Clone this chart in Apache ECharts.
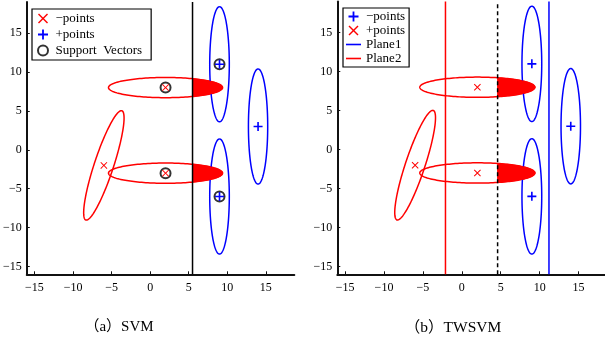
<!DOCTYPE html>
<html>
<head>
<meta charset="utf-8">
<script src="https://cdn.jsdelivr.net/npm/echarts@6/dist/echarts.min.js"></script>
<style>
  html, body { margin: 0; padding: 0; background: #fff; }
  #chart { width: 605px; height: 337px; }
</style>
</head>
<body>
<div id="chart"></div>
<script>
// same toy data set on both panels
const negPoints = [[2, 8], [2, -3], [-6, -2]];
const posPoints = [[9, 11], [9, -6], [14, 3]];
const supportVectors = [[2, 8], [2, -3], [9, 11], [9, -6]];
// ellipse: [cx, cy, semi axis along angle, other semi axis, angle in deg]
const negEllipses = [[2, 8, 7.4, 1.3, 0], [2, -3, 7.4, 1.3, 0], [-6, -2, 7.4, 1.25, 71.6]];
const posEllipses = [[9, 11, 7.4, 1.27, 90], [9, -6, 7.4, 1.27, 90], [14, 3, 7.4, 1.25, 90]];
// separating lines
const svmLine = 5.5;
const twsvmPlane1 = 11.2;
const twsvmPlane2 = -2.1;
const twsvmMid = 4.6;
const ticks = [-15, -10, -5, 0, 5, 10, 15];
const yBottom = -16, yTop = 19;

const SERIF = "'Liberation Serif', 'DejaVu Serif', serif";
const RED = '#ff0000';
const BLUE = '#0000ff';
const crossIcon = 'path://M1,0 L5,4 L9,0 L10,1 L6,5 L10,9 L9,10 L5,6 L1,10 L0,9 L4,5 L0,1 Z';
const plusIcon = 'path://M4.1,0 H5.9 V4.1 H10 V5.9 H5.9 V10 H4.1 V5.9 H0 V4.1 H4.1 Z';
// thin bar; the bare moves keep the full 15x10 box so the bar stays thin
const lineIcon = 'path://M0,0 M0,4.2 L15,4.2 L15,5.8 L0,5.8 Z M15,10';

const fmt = v => (v < 0 ? '\u2212' + Math.abs(v) : String(v));

// part of a horizontal ellipse to the right of x0
const capData = x0 => negEllipses.slice(0, 2).map(e => [e[0], e[1], e[2], e[3], x0]);

function ellipseOutline(color) {
  return function (params, api) {
    const cx = api.value(0), cy = api.value(1), a = api.value(2), b = api.value(3);
    const ang = api.value(4) * Math.PI / 180;
    const pts = [];
    for (let i = 0; i <= 160; i++) {
      const t = i / 160 * 2 * Math.PI;
      const x = cx + a * Math.cos(t) * Math.cos(ang) - b * Math.sin(t) * Math.sin(ang);
      const y = cy + a * Math.cos(t) * Math.sin(ang) + b * Math.sin(t) * Math.cos(ang);
      pts.push(api.coord([x, y]));
    }
    return { type: 'polyline', shape: { points: pts }, style: { stroke: color, lineWidth: 1.5, fill: null } };
  };
}

function ellipseCap(params, api) {
  const cx = api.value(0), cy = api.value(1), a = api.value(2), b = api.value(3), x0 = api.value(4);
  const t0 = Math.acos(Math.max(-1, Math.min(1, (x0 - cx) / a)));
  const pts = [];
  for (let i = 0; i <= 60; i++) {
    const t = -t0 + 2 * t0 * i / 60;
    pts.push(api.coord([cx + a * Math.cos(t), cy + b * Math.sin(t)]));
  }
  return { type: 'polygon', shape: { points: pts }, style: { fill: RED, stroke: RED, lineWidth: 1 } };
}

function xAxisOf(idx, max) {
  return {
    type: 'value', gridIndex: idx, min: -16, max: max,
    axisLine: { show: true, onZero: false, lineStyle: { color: '#111', width: 2 } },
    axisTick: { show: true, inside: true, length: 3, customValues: ticks, lineStyle: { color: '#111' } },
    axisLabel: { customValues: ticks, formatter: fmt, color: '#000', fontFamily: SERIF, fontSize: 12, margin: 8 },
    splitLine: { show: false }
  };
}
function yAxisOf(idx) {
  return {
    type: 'value', gridIndex: idx, min: yBottom, max: yTop,
    axisLine: { show: true, onZero: false, lineStyle: { color: '#111', width: 2 } },
    axisTick: { show: true, inside: true, length: 3, customValues: ticks, lineStyle: { color: '#111' } },
    axisLabel: { customValues: ticks, formatter: fmt, color: '#000', fontFamily: SERIF, fontSize: 12, margin: 5 },
    splitLine: { show: false }
  };
}
function vline(name, idx, x, color, type) {
  return {
    name: name, type: 'line', xAxisIndex: idx, yAxisIndex: idx,
    data: [[x, yBottom], [x, yTop]], symbol: 'none', showSymbol: false, silent: true,
    lineStyle: { color: color, width: 1.5, type: type || 'solid' }, itemStyle: { color: color }, z: 3
  };
}
function outline(idx, data, color) {
  return { type: 'custom', xAxisIndex: idx, yAxisIndex: idx, data: data, renderItem: ellipseOutline(color),
    encode: { x: 0, y: 1 }, silent: true, z: 1 };
}
function caps(idx, x0) {
  return { type: 'custom', xAxisIndex: idx, yAxisIndex: idx, data: capData(x0), renderItem: ellipseCap,
    encode: { x: 0, y: 1 }, silent: true, z: 2 };
}
function marks(name, idx, data, icon, color, size) {
  return { name: name, type: 'scatter', xAxisIndex: idx, yAxisIndex: idx, data: data, symbol: icon,
    symbolSize: size, itemStyle: { color: color, opacity: 1 }, z: 5 };
}

const labels = {
  a_neg: '\u2212points', a_pos: '+points', a_sv: 'Support  Vectors',
  b_blue: '\u2212points', b_red: '+points', b_p1: 'Plane1', b_p2: 'Plane2'
};
const legendBase = {
  orient: 'vertical', backgroundColor: '#fff', borderColor: '#000', borderWidth: 1.2,
  itemWidth: 15, itemHeight: 10, selectedMode: false,
  textStyle: { fontFamily: SERIF, fontSize: 13, color: '#000', lineHeight: 13 },
  formatter: name => labels[name]
};

const chart = echarts.init(document.getElementById('chart'), null, { renderer: 'canvas' });
chart.setOption({
  animation: false,
  backgroundColor: '#fff',
  grid: [
    { left: 22, top: 2, right: 310.7, bottom: 62.7 },
    { left: 337.3, top: 1.5, right: 0, bottom: 62.7 }
  ],
  xAxis: [xAxisOf(0, 18.7), xAxisOf(1, 18.4)],
  yAxis: [yAxisOf(0), yAxisOf(1)],
  title: [
    { text: '\uff08a\uff09SVM', left: 114, top: 315, textAlign: 'center',
      textStyle: { fontFamily: SERIF + ", 'Noto Sans CJK SC'", fontSize: 15, fontWeight: 'normal', color: '#000' } },
    { text: '\uff08b\uff09TWSVM', left: 448, top: 315, textAlign: 'center',
      textStyle: { fontFamily: SERIF + ", 'Noto Sans CJK SC'", fontSize: 15.5, fontWeight: 'normal', color: '#000' } }
  ],
  legend: [
    Object.assign({}, legendBase, {
      left: 32, top: 9, padding: [3, 9, 3, 5], itemGap: 3,
      data: ['a_neg', 'a_pos', 'a_sv']
    }),
    Object.assign({}, legendBase, {
      left: 343, top: 8, padding: [2, 4, 2, 3], itemGap: 1,
      data: ['b_blue', 'b_red', { name: 'b_p1', icon: lineIcon }, { name: 'b_p2', icon: lineIcon }]
    })
  ],
  series: [
    // (a) SVM
    outline(0, negEllipses, RED),
    outline(0, posEllipses, BLUE),
    caps(0, svmLine),
    vline('a_line', 0, svmLine, '#000'),
    { name: 'a_sv', type: 'scatter', xAxisIndex: 0, yAxisIndex: 0, data: supportVectors,
      symbol: 'circle', symbolSize: 10,
      itemStyle: { color: 'rgba(0,0,0,0)', borderColor: '#000', borderWidth: 2 }, z: 4 },
    marks('a_neg', 0, negPoints, crossIcon, RED, 7),
    marks('a_pos', 0, posPoints, plusIcon, BLUE, 9),
    // (b) TWSVM
    outline(1, negEllipses, RED),
    outline(1, posEllipses, BLUE),
    caps(1, twsvmMid),
    vline('b_p1', 1, twsvmPlane1, BLUE),
    vline('b_p2', 1, twsvmPlane2, RED),
    vline('b_mid', 1, twsvmMid, '#000', [4, 3]),
    marks('b_blue', 1, posPoints, plusIcon, BLUE, 9),
    marks('b_red', 1, negPoints, crossIcon, RED, 7)
  ]
});
</script>
</body>
</html>
